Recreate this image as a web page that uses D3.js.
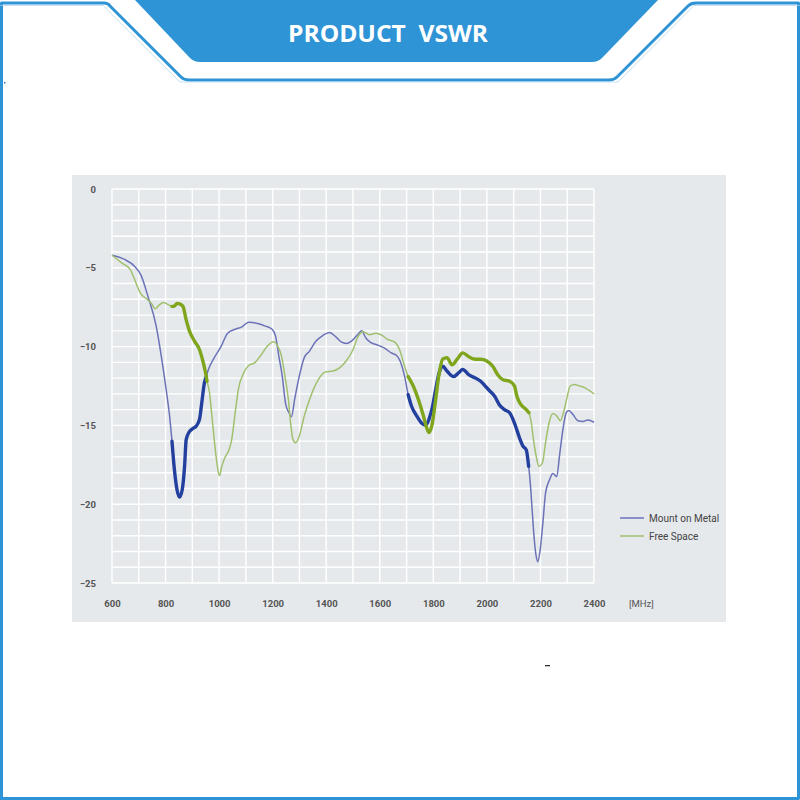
<!DOCTYPE html>
<html><head><meta charset="utf-8">
<script src="https://cdn.jsdelivr.net/npm/d3@7"></script>
<style>html,body{margin:0;padding:0;background:#fff;}svg{display:block;}</style>
</head><body>
<svg id="c" width="800" height="800"></svg>
<script>
// ---- data ----
const metalFreq = [600,647,684,709,734,765,784,802,815,824,833,843,852,862,871,877,889,902,914,927,935,945,952,960,982,1007,1032,1060,1085,1110,1148,1173,1198,1211,1223,1236,1248,1261,1270,1282,1299,1318,1337,1362,1387,1412,1437,1456,1475,1494,1517,1532,1548,1567,1592,1618,1643,1662,1681,1693,1706,1719,1738,1756,1772,1784,1797,1809,1822,1835,1851,1876,1895,1910,1933,1958,1977,1996,2010,2029,2047,2066,2085,2103,2122,2134,2147,2156,2162,2169,2176,2184,2190,2199,2209,2219,2234,2246,2261,2271,2284,2296,2306,2321,2340,2359,2377,2400];
const metalDb = [-4.2,-4.47,-4.9,-5.5,-6.8,-8.7,-10.6,-12.7,-14.4,-16.0,-17.8,-19.1,-19.55,-19.1,-17.6,-15.9,-15.4,-15.2,-15.05,-14.6,-13.6,-12.3,-11.9,-11.45,-10.7,-10.0,-9.15,-8.9,-8.75,-8.45,-8.55,-8.7,-8.9,-9.35,-10.6,-11.9,-13.6,-14.2,-14.45,-13.35,-11.9,-10.7,-10.3,-9.65,-9.3,-9.1,-9.4,-9.7,-9.8,-9.65,-9.25,-9.0,-9.45,-9.75,-9.9,-10.1,-10.4,-10.55,-11.15,-11.9,-13.05,-13.8,-14.4,-14.85,-15.0,-14.6,-13.8,-12.7,-11.65,-11.25,-11.55,-11.9,-11.65,-11.45,-11.8,-12.0,-12.2,-12.55,-12.8,-13.15,-13.7,-14.0,-14.2,-14.85,-15.8,-16.3,-16.55,-17.6,-18.65,-20.35,-22.05,-23.3,-23.65,-22.9,-21.2,-19.3,-18.45,-18.05,-18.25,-16.95,-15.25,-14.2,-14.05,-14.3,-14.7,-14.75,-14.65,-14.8];
const freeFreq = [600,637,668,681,706,731,749,761,774,792,817,824,833,843,855,865,877,889,908,927,939,948,955,964,973,983,992,1001,1010,1020,1038,1047,1060,1072,1091,1110,1135,1154,1179,1204,1217,1233,1246,1259,1267,1276,1286,1299,1318,1337,1355,1374,1399,1425,1450,1475,1500,1519,1539,1561,1586,1605,1630,1655,1674,1691,1706,1725,1744,1763,1775,1784,1794,1807,1820,1835,1851,1870,1889,1910,1933,1958,1977,1998,2022,2041,2060,2085,2103,2112,2128,2147,2157,2166,2174,2184,2194,2207,2219,2232,2247,2261,2274,2286,2299,2311,2327,2346,2365,2383,2400];
const freeDb = [-4.2,-4.7,-5.1,-5.6,-6.6,-7.0,-7.3,-7.6,-7.4,-7.2,-7.4,-7.45,-7.43,-7.26,-7.3,-7.45,-8.3,-9.0,-9.65,-10.2,-10.9,-11.55,-12.2,-12.9,-14.4,-16.1,-17.4,-18.2,-17.6,-17.1,-16.5,-15.9,-14.2,-12.7,-11.7,-11.2,-11.0,-10.6,-10.0,-9.7,-9.9,-10.6,-11.9,-13.4,-14.85,-15.9,-16.1,-15.7,-14.4,-13.4,-12.6,-12.0,-11.6,-11.55,-11.35,-10.9,-10.2,-9.35,-9.05,-9.25,-9.15,-9.25,-9.55,-9.7,-10.2,-11.15,-11.9,-12.5,-13.35,-14.4,-15.15,-15.45,-15.05,-13.6,-11.9,-10.8,-10.7,-11.15,-10.8,-10.4,-10.65,-10.8,-10.8,-10.9,-11.25,-11.8,-12.1,-12.2,-12.5,-13.15,-13.7,-14.0,-14.2,-14.85,-15.9,-16.95,-17.6,-17.4,-16.1,-14.85,-14.25,-14.4,-14.7,-14.2,-13.25,-12.5,-12.4,-12.5,-12.6,-12.8,-13.0];
const bands = [[824, 955], [1705, 2160]];
const xTicks = [600,800,1000,1200,1400,1600,1800,2000,2200,2400];
const yTicks = [0,-5,-10,-15,-20,-25];
const seriesNames = ["Mount on Metal", "Free Space"];
const titleText = "PRODUCT\u00a0\u00a0VSWR";
const unitText = "[MHz]";

// ---- drawing ----
const svg = d3.select("#c");
const blue = "#2f94d6";

// header & frame
svg.append("rect").attr("x",0).attr("y",0).attr("width",800).attr("height",800).attr("fill","#fff");
svg.append("path")
  .attr("d","M135,0 L658,0 L602,58 Q598,62 592,62 L200,62 Q194,62 190,58 Z")
  .attr("fill", blue);
svg.append("path")
  .attr("d","M1.5,800 L1.5,3 L104,3 Q108,3 110,6 L181,77 Q184,80 189,80 L609,80 Q614,80 617,77 L688,6 Q691,3 696,3 L798.5,3 L798.5,798.5 L1.5,798.5")
  .attr("fill","none").attr("stroke", blue).attr("stroke-width",3).attr("stroke-linejoin","round");
svg.append("path")
  .attr("d","M0,5.5 L103,5.5 L180,82 L618,82 L694,5.5 L800,5.5")
  .attr("fill","none").attr("stroke","#a9d3ef").attr("stroke-width",1).attr("opacity",0.7);
svg.append("text").attr("x",388).attr("y",42)
  .attr("text-anchor","middle").attr("fill","#fff")
  .attr("font-family","'Open Sans', 'Liberation Sans', sans-serif").attr("font-weight","bold")
  .attr("font-size",24).attr("textLength",200).attr("lengthAdjust","spacingAndGlyphs")
  .text(titleText);
// small stray marks
svg.append("rect").attr("x",4).attr("y",82).attr("width",1.5).attr("height",1.5).attr("fill","#3a6fb0");
svg.append("rect").attr("x",545).attr("y",665).attr("width",5).attr("height",1.3).attr("fill","#333");

// panel
svg.append("rect").attr("x",72).attr("y",175).attr("width",654).attr("height",447).attr("fill","#e6e9ec");

const x = d3.scaleLinear().domain([600,2400]).range([112,594]);
const y = d3.scaleLinear().domain([-25,0]).range([583,189]);

const g = svg.append("g");
// grid
g.selectAll(".vg").data(d3.range(600,2401,100)).join("line")
  .attr("x1",d=>x(d)).attr("x2",d=>x(d)).attr("y1",y(0)).attr("y2",y(-25))
  .attr("stroke","#fff").attr("stroke-width",1.4);
g.selectAll(".hg").data(d3.range(-25,0.1,1)).join("line")
  .attr("x1",x(600)).attr("x2",x(2400)).attr("y1",d=>y(d)).attr("y2",d=>y(d))
  .attr("stroke","#fff").attr("stroke-width",1.4);

const tickFont = "'Liberation Sans Narrow','Roboto','Liberation Sans',sans-serif";
// axes via d3 axis generators
const xAxis = d3.axisBottom(x).tickValues(xTicks).tickSize(0).tickPadding(0).tickFormat(d3.format("d"));
const gx = svg.append("g").attr("transform","translate(0,600)").call(xAxis);
gx.select(".domain").remove();
gx.selectAll("text").attr("font-family",tickFont).attr("font-weight","bold").attr("font-size",9.5).attr("fill","#555").attr("dy","0.35em").attr("y",4);

const yAxis = d3.axisLeft(y).tickValues(yTicks).tickSize(0).tickPadding(0).tickFormat(d=>d3.format("d")(d));
const gy = svg.append("g").attr("transform","translate(96,0)").call(yAxis);
gy.select(".domain").remove();
gy.selectAll("text").attr("font-family",tickFont).attr("font-weight","bold").attr("font-size",9.5).attr("fill","#555");

svg.append("text").attr("x",629).attr("y",607).attr("font-family",tickFont).attr("font-size",9.5).attr("fill","#555").text(unitText);

// lines
const mk = (fs, ds) => fs.map((f,i)=>({f, v: ds[i]}));
const metal = mk(metalFreq, metalDb);
const free = mk(freeFreq, freeDb);
const line = d3.line().x(d=>x(d.f)).y(d=>y(d.v)).curve(d3.curveMonotoneX);

const styles = [
  {data: metal, thin:"#6b72b8", thick:"#24409e", name: seriesNames[0]},
  {data: free, thin:"#a0c06e", thick:"#7ea51c", name: seriesNames[1]}
];
styles.forEach(s=>{
  svg.append("path").attr("d", line(s.data)).attr("fill","none").attr("stroke", s.thin).attr("stroke-width",1.5);
});
styles.forEach(s=>{
  bands.forEach(b=>{
    const seg = s.data.filter(d=>d.f>=b[0] && d.f<=b[1]);
    svg.append("path").attr("d", line(seg)).attr("fill","none").attr("stroke", s.thick).attr("stroke-width",3.4).attr("stroke-linecap","round");
  });
});

// legend
styles.forEach((s,i)=>{
  const ly = 518 + i*18;
  svg.append("line").attr("x1",620).attr("x2",644).attr("y1",ly).attr("y2",ly).attr("stroke",s.thin).attr("stroke-width",1.5);
  svg.append("text").attr("x",649).attr("y",ly+3.5).attr("font-family",tickFont).attr("font-size",10).attr("fill","#444").text(s.name);
});
</script>
</body></html>
